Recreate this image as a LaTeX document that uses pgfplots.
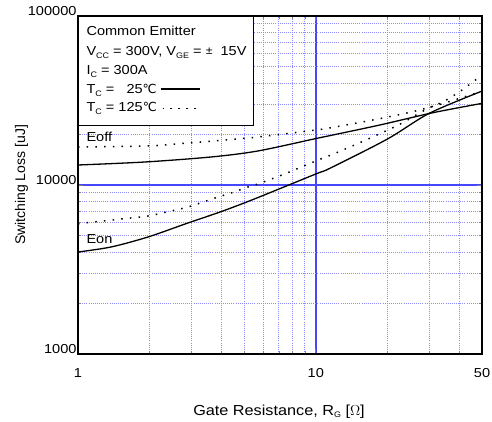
\documentclass[border=0pt]{standalone}
\usepackage{fontspec}
\setmainfont{Liberation Sans}[FakeStretch=1.12]
\newfontfamily\ylabfont{Liberation Sans}
\newfontfamily\djv{DejaVu Sans}
\usepackage{pgfplots}
\usepackage{pgfplotstable}
\pgfplotsset{compat=1.18}
\definecolor{gridmaj}{RGB}{70,70,255}
\definecolor{gridmin}{RGB}{140,140,255}
\newcommand\sub[1]{\raisebox{-2.8pt}{\fontsize{8}{9}\selectfont #1}}
\newcommand\degC{{\djv\fontsize{12.5}{14}\selectfont ℃}}
\newcommand\lfont{\fontsize{13}{15}\selectfont}

\pgfplotstableread{
x y
1 4014
1.377 4297
1.97 4924
2.90 5960
3.99 6950
5.5 8250
10 11620
11.47 12560
20 18700
30 26550
50 35950
}\eonA

\pgfplotstableread{
x y
1 13130
1.912 13680
3.63 14650
5.71 15900
10.09 18880
11.47 19600
18.6 22650
31.2 26800
50 30400
}\eoffA

\pgfplotstableread{
x y
1 16790
1.97 17020
2.90 17720
4.15 18460
5.71 19230
10 21150
11.85 21950
16.5 23910
21.05 25590
27.0 27680
34.4 30400
44.2 33950
50 35700
}\eoffB

\pgfplotstableread{
x y
1 5900
1.516 6293
1.97 6555
2.46 7020
2.90 7410
3.77 8375
4.40 8970
5.19 9730
5.71 10140
7.21 11460
8.5 12610
10 13870
11.85 15240
14.0 16850
16.5 18640
19.4 20680
22.8 23050
29.3 28160
34.4 31120
40.8 36130
48.0 42800
50 44500
}\eonB

\begin{document}
\begin{tikzpicture}[x=1pt,y=1pt]
\useasboundingbox (0,0) rectangle (492,421);
\begin{axis}[
  at={(78pt,67pt)}, anchor=south west,
  scale only axis, width=404pt, height=338pt,
  xmode=log, ymode=log,
  xmin=1, xmax=50, ymin=1000, ymax=100000,
  xtick={1,10,50}, xticklabels={1,10,50},
  ytick={1000,10000,100000}, yticklabels={1000,10000,100000},
  minor xtick={2,3,4,5,6,7,8,9,20,30,40},
  minor ytick={2000,3000,4000,5000,6000,7000,8000,9000,20000,30000,40000,50000,60000,70000,80000,90000},
  grid=both,
  major grid style={draw=gridmaj, line width=1.7pt, solid},
  minor grid style={draw=gridmin, line width=0.9pt, dash pattern=on 0.9pt off 1.2pt},
  axis line style={black, line width=1.6pt},
  major tick style={line width=0.8pt},
  minor tick style={line width=0.8pt},
  major tick length=5pt, minor tick length=3pt,
  tick align=inside,
  /pgf/number format/assume math mode=true,
  xticklabel style={font=\lfont, yshift=-11pt},
  yticklabel style={font=\lfont, xshift=2pt, yshift=5pt},
]
\addplot[black, line width=1.3pt, smooth, tension=0.5] table {\eonA};
\addplot[black, line width=1.3pt, smooth, tension=0.5] table {\eoffA};
\addplot[black, line width=1.5pt, smooth, tension=0.5, dash pattern=on 1.5pt off 7.2pt] table {\eoffB};
\addplot[black, line width=1.5pt, smooth, tension=0.5, dash pattern=on 1.5pt off 7.2pt] table {\eonB};
\end{axis}
% legend box
\fill[white] (78.8,295) rectangle (253,404.2);
\draw[black, line width=1pt] (78,295) -- (253,295) -- (253,405);
\draw[black, line width=1.6pt] (78,294.5) -- (78,405) -- (254,405);
\node[anchor=base west, inner sep=0pt, font=\lfont] at (86.3,385.3) {Common Emitter};
\node[anchor=base west, inner sep=0pt, font=\lfont] at (86.3,365.3) {V\sub{CC} = 300V, V\sub{GE} = \raisebox{1pt}{\fontsize{11}{13}\selectfont ±}\ \ 15V};
\node[anchor=base west, inner sep=0pt, font=\lfont] at (86.3,346) {I\sub{C} = 300A};
\node[anchor=base west, inner sep=0pt, font=\lfont] at (86.3,327.7) {T\sub{C} =};
\node[anchor=base west, inner sep=0pt, font=\lfont] at (126.3,327.7) {25\degC};
\node[anchor=base west, inner sep=0pt, font=\lfont] at (86.3,309.3) {T\sub{C} = 125\degC};
\draw[black, line width=1.3pt] (160.7,332) -- (199.7,332);
\draw[black, line width=1.5pt, dash pattern=on 1.5pt off 6.4pt] (162.5,312.7) -- (198,312.7);
% curve labels
\node[anchor=base west, inner sep=0pt, font=\lfont] at (86.3,279.3) {Eoff};
\node[anchor=base west, inner sep=0pt, font=\lfont] at (86.3,177.7) {Eon};
% axis labels
\node[anchor=base, inner sep=0pt, font=\fontsize{14.5}{16}\selectfont] at (279,6) {Gate Resistance, R\sub{G} [$\Omega$]};
\node[anchor=base, inner sep=0pt, rotate=90, font=\ylabfont\fontsize{14}{16}\selectfont] at (25,236) {Switching Loss [uJ]};
\end{tikzpicture}
\end{document}
